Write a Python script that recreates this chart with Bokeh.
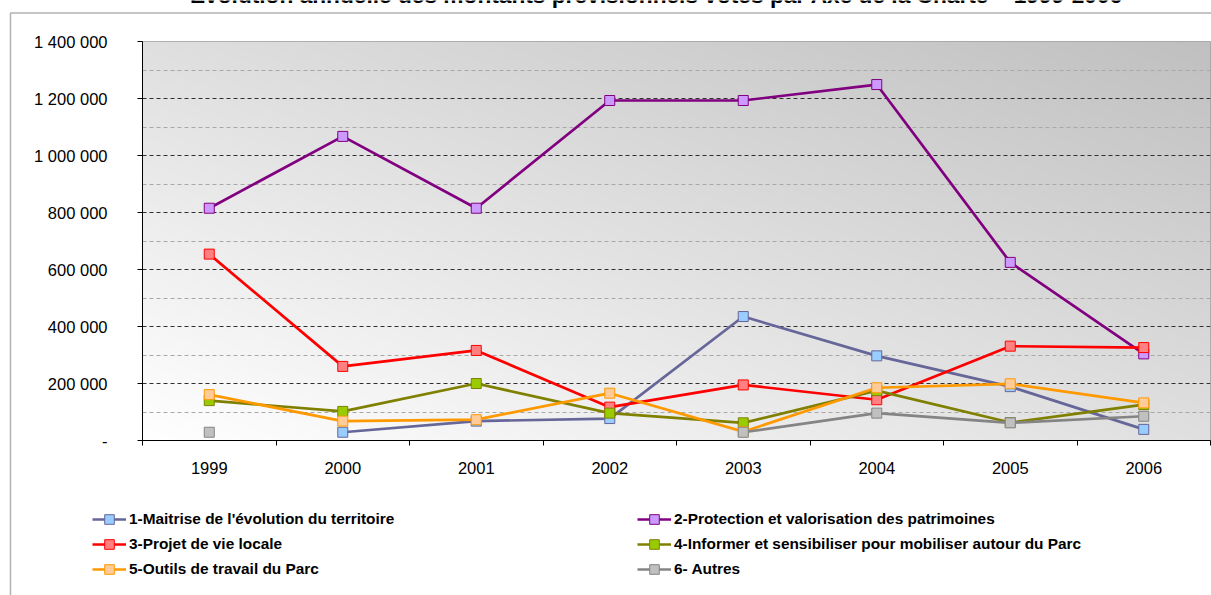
import numpy as np
from bokeh.plotting import figure
from bokeh.models import Range1d, FixedTicker, Legend, LegendItem, Label, BoxAnnotation
from bokeh.embed import file_html
from bokeh.resources import INLINE

nan = float("nan")

# ---------------- data ----------------
years = ["1999", "2000", "2001", "2002", "2003", "2004", "2005", "2006"]

names = [
    "1-Maitrise de l'évolution du territoire",
    "2-Protection et valorisation des patrimoines",
    "3-Projet de vie locale",
    "4-Informer et sensibiliser pour mobiliser autour du Parc",
    "5-Outils de travail du Parc",
    "6- Autres",
]

axe1 = [nan, 29000, 68000, 77000, 435000, 297000, 189000, 39000]
axe2 = [815000, 1067000, 815000, 1193000, 1193000, 1249000, 625000, 304000]
axe3 = [654000, 260000, 316000, 117000, 195000, 143000, 331000, 326000]
axe4 = [140000, 102000, 200000, 96000, 62000, 175000, 63000, 126000]
axe5 = [161000, 68000, 73000, 166000, 31000, 185000, 199000, 132000]
axe6 = [29000, nan, nan, nan, 29000, 96000, 62000, 85000]

y_ticks = [0, 200000, 400000, 600000, 800000, 1000000, 1200000, 1400000]
y_minor = [100000, 300000, 500000, 700000, 900000, 1100000, 1300000]

title_text = "Evolution annuelle des montants prévisionnels votés par Axe de la Charte – 1999-2006"

series = [axe1, axe2, axe3, axe4, axe5, axe6]
line_colors = ["#666699", "#800080", "#FF0000", "#808000", "#FF9900", "#848484"]
fill_colors = ["#99CCFF", "#CC99FF", "#FF8080", "#99CC00", "#FFCC99", "#C0C0C0"]

FONT = "Liberation Sans"
W, H = 1211, 595
xs = list(range(1, len(years) + 1))
ABS = {"position": "absolute", "left": "0px", "top": "0px"}

# ---------------- background sheet: border, title, legend ----------------
bg = figure(width=W, height=H, output_backend="svg", toolbar_location=None,
            x_range=Range1d(0, W), y_range=Range1d(H, 0), min_border=0,
            x_axis_location=None, y_axis_location=None)
bg.styles = ABS
bg.grid.visible = False
bg.outline_line_color = None
bg.background_fill_color = "white"
bg.border_fill_color = "white"

bg.add_layout(BoxAnnotation(left=10, right=W + 200, top=12.5, bottom=H + 200,
                            fill_alpha=0, line_color="black", line_width=1.5))

bg.add_layout(Label(x=656, y=-5.5, text=title_text, text_align="center",
                    text_baseline="alphabetic", text_font=FONT,
                    text_font_size="22.7px", text_font_style="bold",
                    text_color="black"))

items = []
for name, vals, lc, fc in zip(names, series, line_colors, fill_colors):
    rl = bg.line(xs, vals, line_color=lc, line_width=2.5, visible=False)
    rm = bg.scatter(xs, vals, marker="square", size=10, fill_color=fc,
                    line_color=lc, line_width=1, visible=False)
    items.append(LegendItem(label=name, renderers=[rl, rm]))


def make_legend(its, loc):
    lg = Legend(items=its, location=loc, orientation="vertical")
    lg.click_policy = "none"
    lg.border_line_color = None
    lg.background_fill_alpha = 0
    lg.inactive_fill_alpha = 0
    lg.padding = 0
    lg.margin = 0
    lg.spacing = 1
    lg.glyph_width = 34
    lg.glyph_height = 24
    lg.label_height = 24
    lg.label_standoff = 3
    lg.label_text_font = FONT
    lg.label_text_font_size = "15.4px"
    lg.label_text_font_style = "bold"
    lg.label_text_color = "black"
    return lg


bg.add_layout(make_legend([items[0], items[2], items[4]], (92, 14)))
bg.add_layout(make_legend([items[1], items[3], items[5]], (637, 14)))

# ---------------- chart ----------------
p = figure(width=W, height=H, output_backend="svg", toolbar_location=None,
           x_range=Range1d(0.5, len(years) + 0.5), y_range=Range1d(0, 1400000),
           min_border_left=142, min_border_right=1, min_border_top=41,
           min_border_bottom=155)
p.styles = ABS
p.background_fill_alpha = 0
p.border_fill_alpha = 0
p.outline_line_color = "#a0a0a0"

# plot-area gradient (white bottom-left to grey top-right)
ny, nx = 120, 240
u = np.linspace(0, 1, nx)[None, :]
v = np.linspace(0, 1, ny)[:, None]
t = (u + v) / 2.0
g = np.clip(255 - 63 * t, 0, 255).astype(np.uint8)
img = np.empty((ny, nx), dtype=np.uint32)
view = img.view(dtype=np.uint8).reshape((ny, nx, 4))
view[..., 0] = g
view[..., 1] = g
view[..., 2] = g
view[..., 3] = 255
p.image_rgba(image=[img], x=0.5, y=0, dw=len(years), dh=1400000, level="image")

yticker = FixedTicker(ticks=y_ticks, minor_ticks=y_minor)
p.ygrid.ticker = yticker
p.ygrid.grid_line_color = "#303030"
p.ygrid.grid_line_dash = "4 3"
p.ygrid.minor_grid_line_color = "#a8a8a8"
p.ygrid.minor_grid_line_dash = "4 3"
p.xgrid.visible = False

p.yaxis.ticker = yticker
p.yaxis.major_label_overrides = {
    v_: ("-" if v_ == 0 else f"{v_:,}".replace(",", " ")) for v_ in y_ticks
}
p.yaxis.major_tick_out = 5
p.yaxis.major_tick_in = 0
p.yaxis.minor_tick_out = 0
p.yaxis.minor_tick_in = 0
p.yaxis.major_label_standoff = 30
p.yaxis.axis_line_color = "black"
p.yaxis.major_tick_line_color = "black"

p.xaxis.ticker = FixedTicker(ticks=xs, minor_ticks=[x - 0.5 for x in xs] + [xs[-1] + 0.5])
p.xaxis.major_label_overrides = {x: y for x, y in zip(xs, years)}
p.xaxis.major_tick_out = 0
p.xaxis.major_tick_in = 0
p.xaxis.minor_tick_out = 5
p.xaxis.minor_tick_in = 0
p.xaxis.minor_tick_line_color = "black"
p.xaxis.major_label_standoff = 16
p.xaxis.axis_line_color = "black"

for ax in (p.xaxis, p.yaxis):
    ax.major_label_text_font = FONT
    ax.major_label_text_font_size = "16.5px"
    ax.major_label_text_color = "black"

for vals, lc, fc in zip(series, line_colors, fill_colors):
    p.line(xs, vals, line_color=lc, line_width=2.7)
    p.scatter(xs, vals, marker="square", size=10, fill_color=fc,
              line_color=lc, line_width=1)

open("out.html", "w").write(file_html([bg, p], INLINE))
